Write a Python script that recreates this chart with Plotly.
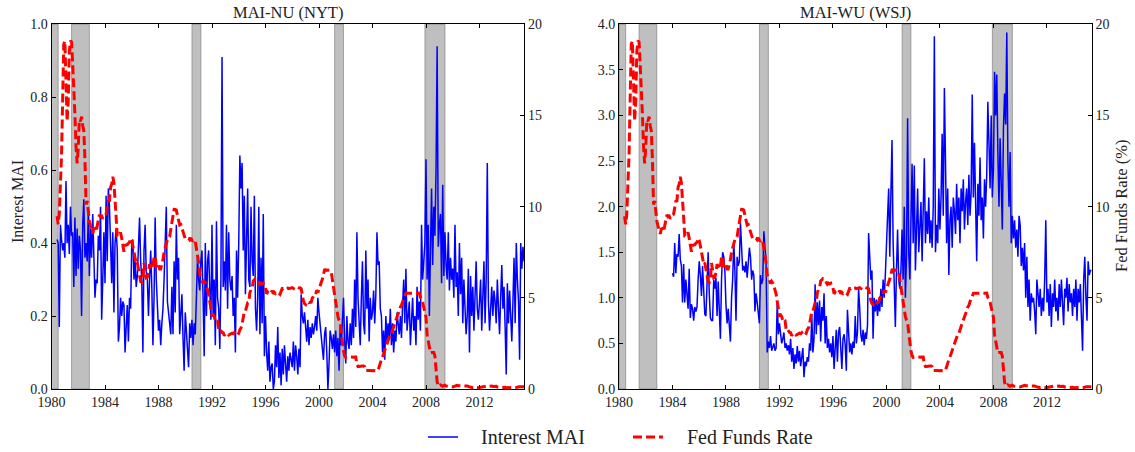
import plotly.graph_objects as go

# ---------------- data ----------------
START_YEAR, START_MONTH = 1980, 6          # first monthly observation (Jun 1980)
WSJ_START_YEAR, WSJ_START_MONTH = 1984, 1  # WSJ index starts Jan 1984

fed_funds = [
    9.47, 9.03, 9.61, 10.87, 12.81, 15.85, 18.90,                              # 1980 Jun-Dec
    19.08, 15.93, 14.70, 15.72, 18.52, 19.10, 19.04, 17.82, 15.87, 15.08, 13.31, 12.37,  # 1981
    13.22, 14.78, 14.68, 14.94, 14.45, 14.15, 12.59, 10.12, 10.31, 9.71, 9.20, 8.95,     # 1982
    8.68, 8.51, 8.77, 8.80, 8.63, 8.98, 9.37, 9.56, 9.45, 9.48, 9.34, 9.47,              # 1983
    9.56, 9.59, 9.91, 10.29, 10.32, 11.06, 11.23, 11.64, 11.30, 9.99, 9.43, 8.38,        # 1984
    8.35, 8.50, 8.58, 8.27, 7.97, 7.53, 7.88, 7.90, 7.92, 7.99, 8.05, 8.27,              # 1985
    8.14, 7.86, 7.48, 6.99, 6.85, 6.92, 6.56, 6.17, 5.89, 5.85, 6.04, 6.91,              # 1986
    6.43, 6.10, 6.13, 6.37, 6.85, 6.73, 6.58, 6.73, 7.22, 7.29, 6.69, 6.77,              # 1987
    6.83, 6.58, 6.58, 6.87, 7.09, 7.51, 7.75, 8.01, 8.19, 8.30, 8.35, 8.76,              # 1988
    9.12, 9.36, 9.85, 9.84, 9.81, 9.53, 9.24, 8.99, 9.02, 8.84, 8.55, 8.45,              # 1989
    8.23, 8.24, 8.28, 8.26, 8.18, 8.29, 8.15, 8.13, 8.20, 8.11, 7.81, 7.31,              # 1990
    6.91, 6.25, 6.12, 5.91, 5.78, 5.90, 5.82, 5.66, 5.45, 5.21, 4.81, 4.43,              # 1991
    4.03, 4.06, 3.98, 3.73, 3.82, 3.76, 3.25, 3.30, 3.22, 3.10, 3.09, 2.92,              # 1992
    3.02, 3.03, 3.07, 2.96, 3.00, 3.04, 3.06, 3.03, 3.09, 2.99, 3.02, 2.96,              # 1993
    3.05, 3.25, 3.34, 3.56, 4.01, 4.25, 4.26, 4.47, 4.73, 4.76, 5.29, 5.45,              # 1994
    5.53, 5.92, 5.98, 6.05, 6.01, 6.00, 5.85, 5.74, 5.80, 5.76, 5.80, 5.60,              # 1995
    5.56, 5.22, 5.31, 5.22, 5.24, 5.27, 5.40, 5.22, 5.30, 5.24, 5.31, 5.29,              # 1996
    5.25, 5.19, 5.39, 5.51, 5.50, 5.56, 5.52, 5.54, 5.54, 5.50, 5.52, 5.50,              # 1997
    5.56, 5.51, 5.49, 5.45, 5.49, 5.56, 5.54, 5.55, 5.51, 5.07, 4.83, 4.68,              # 1998
    4.63, 4.76, 4.81, 4.74, 4.74, 4.76, 4.99, 5.07, 5.22, 5.20, 5.42, 5.30,              # 1999
    5.45, 5.73, 5.85, 6.02, 6.27, 6.53, 6.54, 6.50, 6.52, 6.51, 6.51, 6.40,              # 2000
    5.98, 5.49, 5.31, 4.80, 4.21, 3.97, 3.77, 3.65, 3.07, 2.49, 2.09, 1.82,              # 2001
    1.73, 1.74, 1.73, 1.75, 1.75, 1.75, 1.73, 1.74, 1.75, 1.75, 1.34, 1.24,              # 2002
    1.24, 1.26, 1.25, 1.26, 1.26, 1.22, 1.01, 1.03, 1.01, 1.01, 1.00, 0.98,              # 2003
    1.00, 1.01, 1.00, 1.00, 1.00, 1.03, 1.26, 1.43, 1.61, 1.76, 1.93, 2.16,              # 2004
    2.28, 2.50, 2.63, 2.79, 3.00, 3.04, 3.26, 3.50, 3.62, 3.78, 4.00, 4.16,              # 2005
    4.29, 4.49, 4.59, 4.79, 4.94, 4.99, 5.24, 5.25, 5.25, 5.25, 5.25, 5.24,              # 2006
    5.25, 5.26, 5.26, 5.25, 5.25, 5.25, 5.26, 5.02, 4.94, 4.76, 4.49, 4.24,              # 2007
    3.94, 2.98, 2.61, 2.28, 1.98, 2.00, 2.01, 2.00, 1.81, 0.97, 0.39, 0.16,              # 2008
    0.15, 0.22, 0.18, 0.15, 0.18, 0.21, 0.16, 0.16, 0.15, 0.12, 0.12, 0.12,              # 2009
    0.11, 0.13, 0.16, 0.20, 0.20, 0.18, 0.18, 0.19, 0.19, 0.19, 0.19, 0.18,              # 2010
    0.17, 0.16, 0.14, 0.10, 0.09, 0.09, 0.07, 0.10, 0.08, 0.07, 0.08, 0.07,              # 2011
    0.08, 0.10, 0.13, 0.14, 0.16, 0.16, 0.16, 0.13, 0.14, 0.16, 0.16, 0.16,              # 2012
    0.14, 0.15, 0.14, 0.15, 0.11, 0.09, 0.09, 0.08, 0.08, 0.09, 0.08, 0.09,              # 2013
    0.07, 0.07, 0.08, 0.09, 0.09, 0.10, 0.09, 0.09, 0.09, 0.09, 0.09, 0.12,              # 2014
    0.11, 0.11, 0.11, 0.12, 0.12,                                                        # 2015 Jan-May
]

mai_nyt = [
    0.41, 0.40, 0.17, 0.45, 0.41, 0.38, 0.40,                                            # 1980 Jun-Dec
    0.36, 0.57, 0.40, 0.45, 0.37, 0.50, 0.42, 0.43, 0.28, 0.47, 0.31, 0.44,              # 1981
    0.33, 0.42, 0.38, 0.20, 0.45, 0.52, 0.36, 0.40, 0.35, 0.48, 0.31, 0.44,              # 1982
    0.36, 0.48, 0.33, 0.25, 0.30, 0.29, 0.42, 0.38, 0.50, 0.19, 0.30, 0.43,              # 1983
    0.29, 0.53, 0.35, 0.55, 0.50, 0.38, 0.29, 0.43, 0.21, 0.40, 0.44, 0.38,              # 1984
    0.13, 0.17, 0.25, 0.20, 0.24, 0.23, 0.10, 0.17, 0.23, 0.13, 0.25, 0.22,              # 1985
    0.40, 0.41, 0.30, 0.35, 0.28, 0.31, 0.40, 0.47, 0.35, 0.30, 0.10, 0.38,              # 1986
    0.45, 0.32, 0.30, 0.20, 0.30, 0.38, 0.28, 0.12, 0.25, 0.47, 0.30, 0.20,              # 1987
    0.16, 0.19, 0.12, 0.18, 0.22, 0.30, 0.42, 0.50, 0.24, 0.20, 0.18, 0.15,              # 1988
    0.28, 0.15, 0.35, 0.21, 0.45, 0.30, 0.36, 0.15, 0.22, 0.26, 0.14, 0.05,              # 1989
    0.21, 0.15, 0.12, 0.06, 0.18, 0.14, 0.19, 0.12, 0.18, 0.15, 0.25, 0.36,              # 1990
    0.30, 0.27, 0.35, 0.38, 0.25, 0.09, 0.40, 0.20, 0.35, 0.38, 0.27, 0.19,              # 1991
    0.45, 0.20, 0.30, 0.12, 0.46, 0.25, 0.22, 0.11, 0.30, 0.91, 0.28, 0.35,              # 1992
    0.27, 0.45, 0.22, 0.43, 0.30, 0.27, 0.31, 0.20, 0.25, 0.10, 0.38, 0.25,              # 1993
    0.40, 0.64, 0.55, 0.62, 0.38, 0.53, 0.26, 0.45, 0.55, 0.30, 0.28, 0.50,              # 1994
    0.35, 0.31, 0.53, 0.22, 0.16, 0.25, 0.50, 0.15, 0.36, 0.18, 0.48, 0.09,              # 1995
    0.20, 0.10, 0.05, 0.13, 0.02, 0.06, 0.07, 0.00, 0.02, 0.12, 0.06, 0.17,              # 1996
    0.03, 0.10, 0.01, 0.11, 0.04, 0.12, 0.08, 0.02, 0.09, 0.05, 0.10, 0.07,              # 1997
    0.06, 0.13, 0.05, 0.12, 0.09, 0.04, 0.11, 0.06, 0.26, 0.20, 0.18, 0.21,              # 1998
    0.15, 0.13, 0.19, 0.12, 0.17, 0.14, 0.18, 0.15, 0.17, 0.20, 0.16, 0.25,              # 1999
    0.21, 0.18, 0.14, 0.12, 0.08, 0.15, 0.17, 0.10, 0.00, 0.07, 0.16, 0.14,              # 2000
    0.11, 0.15, 0.10, 0.16, 0.09, 0.14, 0.05, 0.17, 0.12, 0.19, 0.25, 0.13,              # 2001
    0.07, 0.20, 0.13, 0.11, 0.18, 0.12, 0.22, 0.14, 0.30, 0.17, 0.43, 0.25,              # 2002
    0.20, 0.12, 0.25, 0.35, 0.18, 0.15, 0.38, 0.22, 0.30, 0.13, 0.25, 0.19,              # 2003
    0.21, 0.27, 0.18, 0.26, 0.43, 0.34, 0.35, 0.22, 0.20, 0.10, 0.16, 0.08,              # 2004
    0.20, 0.13, 0.18, 0.14, 0.22, 0.12, 0.18, 0.10, 0.16, 0.13, 0.21, 0.17,              # 2005
    0.15, 0.20, 0.14, 0.23, 0.30, 0.18, 0.33, 0.16, 0.19, 0.24, 0.12, 0.17,              # 2006
    0.25, 0.16, 0.20, 0.12, 0.28, 0.19, 0.24, 0.16, 0.45, 0.30, 0.36, 0.40,              # 2007
    0.63, 0.30, 0.45, 0.20, 0.38, 0.55, 0.34, 0.50, 0.42, 0.60, 0.94, 0.39,              # 2008
    0.45, 0.48, 0.29, 0.56, 0.31, 0.43, 0.34, 0.30, 0.43, 0.27, 0.36, 0.30,              # 2009
    0.33, 0.25, 0.45, 0.28, 0.32, 0.20, 0.40, 0.26, 0.36, 0.18, 0.30, 0.24,              # 2010
    0.15, 0.20, 0.33, 0.10, 0.31, 0.20, 0.28, 0.16, 0.24, 0.35, 0.22, 0.19,              # 2011
    0.24, 0.30, 0.16, 0.29, 0.35, 0.18, 0.30, 0.62, 0.24, 0.16, 0.22, 0.28,              # 2012
    0.20, 0.27, 0.24, 0.18, 0.30, 0.23, 0.15, 0.25, 0.34, 0.22, 0.28, 0.17,              # 2013
    0.04, 0.29, 0.18, 0.27, 0.21, 0.13, 0.24, 0.36, 0.18, 0.40, 0.30, 0.24,              # 2014
    0.08, 0.40, 0.33, 0.39, 0.35,                                                        # 2015 Jan-May
]

mai_wsj = [
    1.27, 1.23, 1.60, 1.27, 1.48, 1.45, 1.70, 1.42, 1.35, 0.95, 1.37, 0.95,              # 1984
    1.20, 1.05, 0.88, 1.32, 0.78, 0.93, 0.88, 0.75, 0.90, 0.85, 0.90, 1.20,              # 1985
    1.40, 1.25, 1.02, 1.35, 1.08, 0.82, 0.80, 1.20, 1.50, 1.05, 0.78, 0.75,              # 1986
    0.75, 1.20, 1.10, 1.22, 0.80, 1.18, 0.78, 0.55, 1.20, 1.50, 1.45, 1.30,              # 1987
    0.92, 0.72, 0.88, 0.70, 0.52, 1.00, 1.20, 1.62, 1.30, 0.75, 1.45, 1.35,              # 1988
    1.40, 1.82, 1.55, 1.30, 1.35, 1.28, 1.40, 1.22, 1.38, 1.55, 1.45, 1.20,              # 1989
    1.30, 1.25, 0.85, 1.05, 0.95, 0.82, 0.72, 1.25, 1.15, 1.20, 1.73, 1.55,              # 1990
    1.40, 0.40, 0.52, 0.45, 0.58, 0.42, 0.45, 0.50, 0.42, 0.45, 0.95, 0.60,              # 1991
    0.72, 0.58, 0.50, 0.55, 0.62, 0.45, 0.50, 0.42, 0.48, 0.38, 0.55, 0.30,              # 1992
    0.45, 0.22, 0.38, 0.28, 0.47, 0.30, 0.42, 0.25, 0.35, 0.45, 0.13, 0.30,              # 1993
    0.25, 0.35, 0.30, 0.50, 0.42, 0.82, 0.40, 0.55, 1.15, 0.60, 0.95, 0.70,              # 1994
    0.97, 0.52, 0.90, 0.75, 1.05, 0.50, 0.80, 0.45, 0.55, 0.40, 0.50, 0.35,              # 1995
    0.58, 0.22, 0.45, 0.65, 0.30, 0.62, 0.68, 0.35, 0.22, 0.55, 0.60, 0.48,              # 1996
    0.20, 0.87, 0.65, 0.40, 0.50, 0.38, 0.52, 0.45, 0.80, 0.50, 0.62, 1.10,              # 1997
    0.89, 0.60, 0.52, 0.65, 0.48, 0.62, 0.55, 0.70, 1.71, 1.45, 1.20, 1.30,              # 1998
    0.55, 1.00, 0.85, 0.98, 0.80, 0.95, 0.85, 1.10, 0.90, 1.20, 1.00, 1.25,              # 1999
    1.50, 1.89, 2.20, 1.45, 2.15, 2.73, 1.60, 1.00, 0.68, 1.30, 1.75, 1.20,              # 2000
    1.10, 1.30, 1.75, 1.20, 2.00, 1.00, 1.45, 2.97, 1.50, 1.20, 2.05, 2.47,              # 2001
    1.60, 2.45, 1.30, 1.90, 2.20, 1.50, 1.75, 2.05, 1.40, 1.85, 2.53, 1.60,              # 2002
    1.95, 1.70, 2.10, 1.60, 1.85, 1.55, 2.00, 3.87, 1.50, 1.80, 1.60, 2.20,              # 2003
    1.75, 2.10, 2.80, 1.90, 3.30, 2.50, 1.60, 2.20, 1.25, 1.85, 2.00, 1.55,              # 2004
    2.10, 1.95, 1.70, 2.25, 1.85, 2.10, 1.60, 2.20, 1.95, 2.30, 1.75, 2.05,              # 2005
    2.20, 1.80, 2.35, 1.90, 2.15, 3.23, 2.10, 2.70, 2.00, 1.40, 2.25, 1.90,              # 2006
    2.54, 1.85, 2.10, 1.65, 2.30, 2.00, 2.35, 3.15, 2.70, 2.20, 3.00, 2.10,              # 2007
    2.40, 3.48, 3.00, 3.45, 2.60, 2.00, 2.75, 2.30, 1.75, 2.85, 3.24, 2.90,              # 2008
    3.91, 2.50, 2.00, 2.60, 1.60, 1.90, 1.65, 1.85, 1.55, 1.75, 1.45, 1.90,              # 2009
    1.80, 1.35, 1.55, 1.30, 1.60, 1.00, 1.45, 0.90, 1.20, 0.75, 1.05, 0.95,              # 2010
    1.00, 0.85, 0.60, 1.20, 1.05, 0.90, 1.10, 0.80, 1.00, 0.85, 1.20, 1.85,              # 2011
    0.95, 1.10, 0.80, 1.15, 0.68, 1.05, 0.90, 1.20, 0.85, 1.00, 0.75, 1.15,              # 2012
    0.90, 1.20, 0.95, 0.70, 1.10, 1.00, 1.22, 0.85, 1.15, 0.95, 1.05, 0.80,              # 2013
    1.10, 0.90, 1.20, 0.75, 1.10, 0.95, 1.15, 0.85, 0.42, 1.20, 1.45, 1.00,              # 2014
    0.75, 1.40, 1.25, 1.30, 1.30,                                                        # 2015 Jan-May
]

recession_start = [1980.0, 1981.5, 1990.5, 2001.17, 2007.92]
recession_end = [1980.5, 1982.83, 1991.17, 2001.83, 2009.42]

x_ticks = [1980, 1984, 1988, 1992, 1996, 2000, 2004, 2008, 2012]
titles = ["MAI-NU (NYT)", "MAI-WU (WSJ)"]
left_ylabel = "Interest MAI"
right_ylabel = "Fed Funds Rate (%)"
legend_names = ["Interest MAI", "Fed Funds Rate"]


def month_axis(y0, m0, n):
    return [y0 + (m0 - 1 + i) / 12.0 for i in range(n)]


x_ff = month_axis(START_YEAR, START_MONTH, len(fed_funds))
x_nyt = month_axis(START_YEAR, START_MONTH, len(mai_nyt))
x_wsj = month_axis(WSJ_START_YEAR, WSJ_START_MONTH, len(mai_wsj))

# ---------------- figure ----------------
W, H = 1135, 452
FONT = "Liberation Serif"
TXT = "#222222"
BLUE = "#0000ff"
RED = "#ff0000"
DASH = "9px,4px"

px = lambda v: v / W
py = lambda v: 1 - v / H

xdom = [[px(51.5), px(524.3)], [px(619), px(1091.7)]]
ydom = [py(389), py(24.3)]
XR = [1980, 2015.35]

fig = go.Figure()

fig.add_trace(go.Scatter(x=x_nyt, y=mai_nyt, mode="lines", xaxis="x", yaxis="y",
                         line=dict(color=BLUE, width=1.5), name=legend_names[0], showlegend=False))
fig.add_trace(go.Scatter(x=x_ff, y=fed_funds, mode="lines", xaxis="x", yaxis="y3",
                         line=dict(color=RED, width=3, dash=DASH), name=legend_names[1], showlegend=False))
fig.add_trace(go.Scatter(x=x_wsj, y=mai_wsj, mode="lines", xaxis="x2", yaxis="y2",
                         line=dict(color=BLUE, width=1.5), name=legend_names[0], showlegend=False))
fig.add_trace(go.Scatter(x=x_ff, y=fed_funds, mode="lines", xaxis="x2", yaxis="y4",
                         line=dict(color=RED, width=3, dash=DASH), name=legend_names[1], showlegend=False))

tickfont = dict(family=FONT, size=14, color=TXT)
common_x = dict(range=XR, tickvals=x_ticks, ticktext=[str(t) for t in x_ticks],
                ticks="inside", ticklen=4, tickcolor="black", showline=True, linecolor="black",
                linewidth=1, mirror="ticks", showgrid=False, zeroline=False, tickfont=tickfont,
                automargin=False)
common_yl = dict(ticks="inside", ticklen=4, tickcolor="black", showline=True, linecolor="black",
                 linewidth=1, showgrid=False, zeroline=False, tickfont=tickfont, side="left",
                 automargin=False)
common_yr = dict(range=[0, 20], tickvals=[0, 5, 10, 15, 20], ticks="inside", ticklen=4,
                 tickcolor="black", showline=True, linecolor="black", linewidth=1,
                 showgrid=False, zeroline=False, tickfont=tickfont, side="right",
                 automargin=False)

fig.update_layout(
    width=W, height=H, margin=dict(l=0, r=0, t=0, b=0, autoexpand=False),
    paper_bgcolor="white", plot_bgcolor="white", showlegend=False,
    font=dict(family=FONT, color=TXT),
    xaxis=dict(domain=xdom[0], anchor="y", **common_x),
    xaxis2=dict(domain=xdom[1], anchor="y2", **common_x),
    yaxis=dict(domain=ydom, anchor="x", range=[0, 1],
               tickvals=[0, 0.2, 0.4, 0.6, 0.8, 1.0], tickformat=".1f", **common_yl),
    yaxis2=dict(domain=ydom, anchor="x2", range=[0, 4],
                tickvals=[0, 0.5, 1, 1.5, 2, 2.5, 3, 3.5, 4], tickformat=".1f", **common_yl),
    yaxis3=dict(overlaying="y", anchor="x", **common_yr),
    yaxis4=dict(overlaying="y2", anchor="x2", **common_yr),
)

# recession shading
shapes = []
for xa in ["x", "x2"]:
    for s, e in zip(recession_start, recession_end):
        shapes.append(dict(type="rect", xref=xa, yref=("y domain" if xa == "x" else "y2 domain"),
                           x0=s, x1=e, y0=0, y1=1, layer="below",
                           fillcolor="rgba(128,128,128,0.5)",
                           line=dict(color="rgba(110,110,110,0.55)", width=1)))

# legend samples
leg_y = py(437)
shapes.append(dict(type="line", xref="paper", yref="paper", x0=px(428), x1=px(458),
                   y0=leg_y, y1=leg_y, line=dict(color=BLUE, width=1.5)))
shapes.append(dict(type="line", xref="paper", yref="paper", x0=px(633), x1=px(663),
                   y0=leg_y, y1=leg_y, line=dict(color=RED, width=3, dash=DASH)))
fig.update_layout(shapes=shapes)

ann = []
for t, xc in zip(titles, [(51.5 + 524.3) / 2, (619 + 1091.7) / 2]):
    ann.append(dict(text=t, x=px(xc), y=py(13), xref="paper", yref="paper",
                    xanchor="center", yanchor="middle", showarrow=False,
                    font=dict(family=FONT, size=16.5, color=TXT)))
ann.append(dict(text=left_ylabel, x=px(18), y=py(202), xref="paper", yref="paper",
                xanchor="center", yanchor="middle", textangle=-90, showarrow=False,
                font=dict(family=FONT, size=16, color=TXT)))
ann.append(dict(text=right_ylabel, x=px(1122), y=py(206), xref="paper", yref="paper",
                xanchor="center", yanchor="middle", textangle=-90, showarrow=False,
                font=dict(family=FONT, size=16.5, color=TXT)))
ann.append(dict(text=legend_names[0], x=px(479), y=leg_y, xref="paper", yref="paper",
                xanchor="left", yanchor="middle", showarrow=False,
                font=dict(family=FONT, size=20, color=TXT)))
ann.append(dict(text=legend_names[1], x=px(685), y=leg_y, xref="paper", yref="paper",
                xanchor="left", yanchor="middle", showarrow=False,
                font=dict(family=FONT, size=20, color=TXT)))
fig.update_layout(annotations=ann)

fig.write_html("out.html")
